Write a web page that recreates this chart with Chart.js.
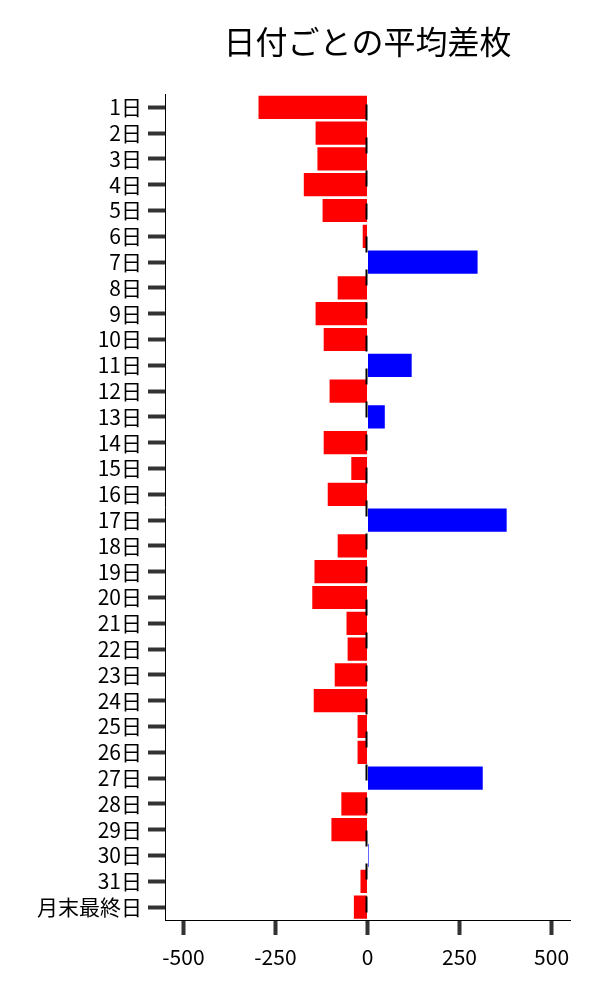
<!DOCTYPE html>
<html>
<head>
<meta charset="utf-8">
<script src="https://cdn.jsdelivr.net/npm/chart.js@4"></script>
<style>
  body { margin: 0; background: #fff; }
</style>
</head>
<body>
<canvas id="chart" width="600" height="1000"></canvas>
<script>
const days = ['1日', '2日', '3日', '4日', '5日', '6日', '7日', '8日', '9日', '10日',
    '11日', '12日', '13日', '14日', '15日', '16日', '17日', '18日', '19日', '20日',
    '21日', '22日', '23日', '24日', '25日', '26日', '27日', '28日', '29日', '30日',
    '31日', '月末最終日'];
const avgDiff = [-296, -141, -136, -173, -122, -13, 299, -81, -141, -119,
    120, -103, 47, -119, -44, -108, 378, -81, -144, -150,
    -57, -54, -89, -146, -27, -27, 313, -71, -98, 3,
    -19, -37];
const xTicks = [-500, -250, 0, 250, 500];
const xMin = -550;
const xMax = 550;

const font = "'Noto Sans CJK JP', 'Noto Sans', sans-serif";

// dashed line at zero, on top of the bars
const zeroLine = {
    id: 'zeroLine',
    afterDatasetsDraw(chart) {
        const ctx = chart.ctx;
        const x = chart.scales.x.getPixelForValue(0) - 1;
        const area = chart.chartArea;
        ctx.save();
        ctx.strokeStyle = '#000';
        ctx.lineWidth = 2;
        ctx.setLineDash([16, 17]);
        ctx.lineDashOffset = 23;
        ctx.beginPath();
        ctx.moveTo(x, area.top);
        ctx.lineTo(x, area.bottom);
        ctx.stroke();
        ctx.restore();
    }
};

const ctx = document.getElementById('chart').getContext('2d');
const myChart = new Chart(ctx, {
    type: 'bar',
    data: {
        labels: days,
        datasets: [{
            data: avgDiff,
            backgroundColor: avgDiff.map(v => v >= 0 ? '#0000ff' : '#ff0000'),
            borderWidth: 0,
            barPercentage: 0.9,
            categoryPercentage: 1.0
        }]
    },
    options: {
        indexAxis: 'y',
        responsive: false,
        animation: false,
        layout: { padding: { top: 0, right: 30, bottom: 0, left: 0 } },
        plugins: {
            legend: { display: false },
            tooltip: { enabled: false },
            title: {
                display: true,
                text: '日付ごとの平均差枚',
                fullSize: false,
                color: '#000',
                font: { family: font, size: 32, weight: 'normal', lineHeight: 1.2 },
                padding: { top: 23, bottom: 33 }
            }
        },
        scales: {
            x: {
                min: xMin,
                max: xMax,
                afterBuildTicks: scale => {
                    scale.ticks = xTicks.map(v => ({ value: v }));
                },
                afterFit: scale => { scale.height = 80; },
                border: { display: true, color: '#000', width: 1 },
                grid: {
                    drawOnChartArea: false,
                    drawTicks: true,
                    tickLength: 15,
                    tickWidth: 4,
                    tickColor: '#333'
                },
                ticks: {
                    color: '#000',
                    padding: 9,
                    maxRotation: 0,
                    font: { family: font, size: 21 }
                }
            },
            y: {
                afterFit: scale => { scale.width = 165; },
                border: { display: true, color: '#000', width: 1 },
                grid: {
                    offset: false,
                    drawOnChartArea: false,
                    drawTicks: true,
                    tickLength: 17,
                    tickWidth: 4,
                    tickColor: '#333'
                },
                ticks: {
                    color: '#000',
                    padding: 6,
                    autoSkip: false,
                    font: { family: font, size: 21 }
                }
            }
        }
    },
    plugins: [zeroLine]
});
</script>
</body>
</html>
